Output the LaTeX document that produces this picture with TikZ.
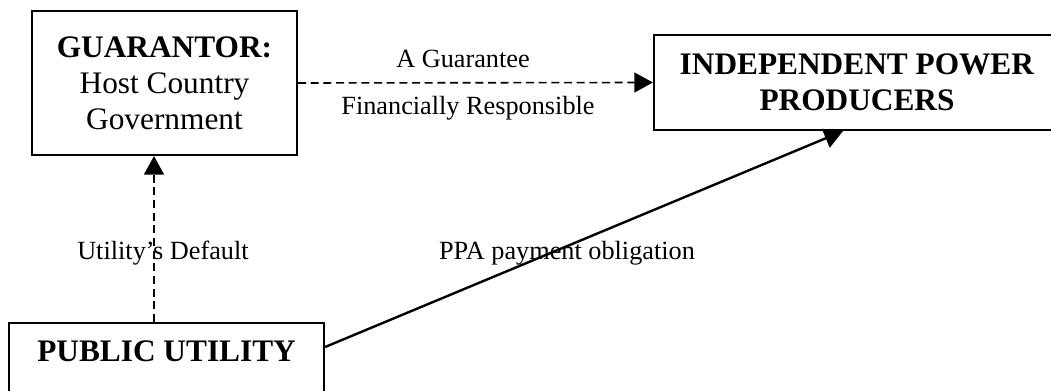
\documentclass[tikz,border=0pt]{standalone}
\usepackage{fontspec}
\setmainfont{Liberation Serif}
\usetikzlibrary{arrows.meta}

\tikzset{every picture/.style={line width=0.75pt}}
\tikzset{
  partybox/.style={draw, line width=1.6pt, rectangle, inner sep=0pt, align=center, font=\fontsize{23.5}{26.5}\selectfont},
  flowlabel/.style={anchor=base, inner sep=0.75pt, font=\fontsize{19.7}{22}\selectfont},
  flowtip/.style={-{Triangle[length=14pt,width=15pt]}},
  dashedflow/.style={flowtip, line width=1.2pt, dash pattern=on 6pt off 3.5pt},
  solidflow/.style={flowtip, line width=1.8pt}
}

\begin{document}
\begin{tikzpicture}[x=0.75pt,y=0.75pt,yscale=-1,xscale=1]
%set diagram left start at 0, and has height of 391
\path[use as bounding box, clip] (0,0) rectangle (1051,391);

%Shape: Rectangle [guarantor]
\node[partybox, minimum width=198.75pt, minimum height=108pt] (guarantor) at (164.5,83)
  {\textbf{GUARANTOR:}\\[0.5pt]Host Country\\[0.5pt]Government};
%Shape: Rectangle [producers]
\node[partybox, minimum width=304.5pt, minimum height=71.25pt] (producers) at (857,82.5)
  {\textbf{INDEPENDENT POWER}\\[0.5pt]\textbf{PRODUCERS}};
%Shape: Rectangle [utility]
\node[partybox, anchor=north west, minimum width=236.25pt, text height=28.5pt, text depth=45pt] (utility) at (8,322)
  {\textbf{PUBLIC UTILITY}};

%Straight Lines [guarantee]
\draw[dashedflow] (guarantor.east) -- (producers.west);
%Straight Lines [default]
\coordinate (defx) at (154,0);
\draw[dashedflow] (utility.north -| defx) -- (guarantor.south -| defx);
%Straight Lines [obligation]
\draw[solidflow] ([yshift=18.75pt]utility.north east) -- ([xshift=-10.5pt]producers.south);

% Text Node
\node[flowlabel] (lblguarantee) at (463,68) {A Guarantee};
% Text Node
\node[flowlabel] (lblresponsible) at (468,115) {Financially Responsible};
% Text Node
\node[flowlabel] (lbldefault) at (163,260) {Utility’s Default};
% Text Node
\node[flowlabel] (lblobligation) at (567,260) {PPA payment obligation};

\end{tikzpicture}
\end{document}
